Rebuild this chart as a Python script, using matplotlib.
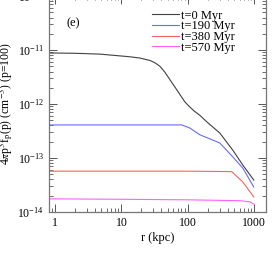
import numpy as np
import matplotlib
matplotlib.use("Agg")
import matplotlib.pyplot as plt
from matplotlib.ticker import LogLocator, NullFormatter, FixedLocator, FixedFormatter

plt.rcParams['font.family'] = ['Liberation Serif', 'DejaVu Serif']
plt.rcParams['mathtext.fontset'] = 'stix'

# valores (r en kpc)
r_t0 = [0.8, 1, 2, 4.75, 13.4, 19, 27, 32, 38, 45, 54, 65, 76, 90, 107, 125,
        151, 200, 303, 475, 673, 985]
f_t0 = [8.8e-12, 8.8e-12, 8.7e-12, 8.4e-12, 7.5e-12, 7.1e-12, 6.4e-12, 5.8e-12,
        5.0e-12, 3.9e-12, 2.8e-12, 2.0e-12, 1.5e-12, 1.1e-12, 8.8e-13, 7.4e-13,
        6.2e-13, 4.5e-13, 2.9e-13, 1.4e-13, 7.4e-14, 3.9e-14]

r_t190 = [0.8, 10, 81, 107, 151, 303, 475, 673, 985]
f_t190 = [4.1e-13, 4.1e-13, 4.1e-13, 3.6e-13, 2.7e-13, 1.9e-13, 1.05e-13,
          6.5e-14, 2.9e-14]

r_t380 = [0.8, 10, 100, 458, 673, 985]
f_t380 = [5.7e-14, 5.7e-14, 5.7e-14, 5.6e-14, 3.6e-14, 1.9e-14]

r_t570 = [0.8, 10, 100, 600, 850, 985]
f_t570 = [1.75e-14, 1.72e-14, 1.68e-14, 1.62e-14, 1.55e-14, 1.4e-14]

etiquetas = ['t=0 Myr', 't=190 Myr', 't=380 Myr', 't=570 Myr']
colores = ['#404040', '#6a6aff', '#ff6060', '#ff60ff']

fig = plt.figure(figsize=(2.75, 2.64), dpi=100)
ax = fig.add_axes([0.178, 0.197, 0.789, 0.818])

series = [(r_t0, f_t0), (r_t190, f_t190), (r_t380, f_t380), (r_t570, f_t570)]
for (r, f), lab, c in zip(series, etiquetas, colores):
    ax.plot(r, f, color=c, lw=0.8, label=lab)

ax.set_xscale('log')
ax.set_yscale('log')
ax.set_xlim(0.81, 1500)
ax.set_ylim(1e-14, 1e-10)

ax.xaxis.set_major_locator(FixedLocator([1, 10, 100, 1000]))
ax.xaxis.set_major_formatter(FixedFormatter(['1', '10', '100', '1000']))
ax.xaxis.set_minor_locator(LogLocator(base=10, subs=np.arange(2, 10), numticks=20))
ax.xaxis.set_minor_formatter(NullFormatter())
ax.yaxis.set_major_locator(LogLocator(base=10, numticks=10))
ax.yaxis.set_minor_locator(LogLocator(base=10, subs=np.arange(2, 10), numticks=20))
ax.yaxis.set_minor_formatter(NullFormatter())

ax.tick_params(which='both', direction='in', top=True, right=True,
               labelsize=8.5, color='#555555')
ax.tick_params(which='major', length=6, width=0.7)
ax.tick_params(which='minor', length=3, width=0.6)
for s in ax.spines.values():
    s.set_color('#777777')
    s.set_linewidth(0.9)

ax.set_xlabel('r (kpc)', fontsize=9, labelpad=2)
ax.set_ylabel(r'4$\pi$p$^3$f$_\mathrm{p}$(p) (cm$^{-3}$) (p=100)', fontsize=8.5, labelpad=2)

ax.text(0.08, 0.86, '(e)', transform=ax.transAxes, fontsize=9)

ax.legend(loc='upper right', bbox_to_anchor=(0.895, 0.978), frameon=False,
          fontsize=9, handlelength=2.2, handletextpad=0.1,
          labelspacing=-0.1, borderpad=0.2)

fig.savefig('out.png', dpi=100)
